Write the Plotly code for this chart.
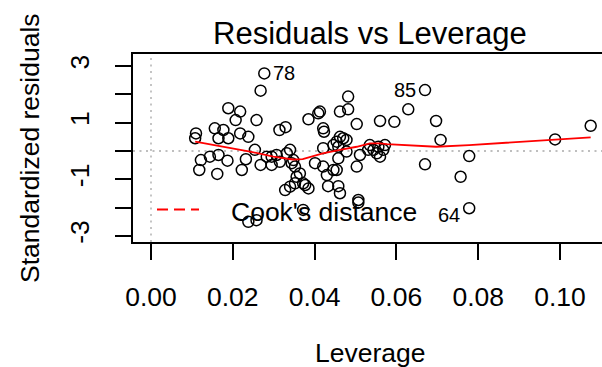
import plotly.graph_objects as go

# Regression diagnostics: standardized residuals against leverage
leverage = [
    0.0277, 0.0268, 0.0189, 0.0218, 0.0207, 0.0258, 0.0156, 0.0177, 0.0110, 0.0108,
    0.0165, 0.0189, 0.0218, 0.0238, 0.0314, 0.0329, 0.0254, 0.0122, 0.0118, 0.0144,
    0.0165, 0.0162, 0.0187, 0.0232, 0.0222, 0.0268, 0.0283, 0.0295, 0.0307, 0.0295,
    0.0315, 0.0332, 0.0340, 0.0348, 0.0352, 0.0328, 0.0340, 0.0352, 0.0238, 0.0258,
    0.0670, 0.0629, 0.0482, 0.0482, 0.0462, 0.0413, 0.0409, 0.0385, 0.0503, 0.0560,
    0.0595, 0.0697, 0.0708, 0.0421, 0.0423, 0.0462, 0.0470, 0.0478, 0.0454, 0.0446,
    0.0458, 0.0421, 0.0458, 0.0478, 0.0511, 0.0503, 0.0535, 0.0531, 0.0544, 0.0556,
    0.0560, 0.0568, 0.0572, 0.0552, 0.0670, 0.0401, 0.0421, 0.0446, 0.0430, 0.0454,
    0.0433, 0.0458, 0.0462, 0.0372, 0.0385, 0.0356, 0.0507, 0.0507, 0.0372, 0.0364,
    0.0377, 0.0344, 0.1075, 0.0988, 0.0778, 0.0757, 0.0778,
]
std_resid = [
    2.74, 2.13, 1.51, 1.39, 1.09, 1.09, 0.80, 0.74, 0.62, 0.45,
    0.45, 0.45, 0.62, 0.50, 0.74, 0.84, 0.04, -0.32, -0.67, -0.20,
    -0.14, -0.81, -0.34, -0.29, -0.67, -0.49, -0.20, -0.20, -0.14, -0.49,
    -0.38, -0.08, 0.04, -0.32, -0.55, -1.38, -1.26, -1.14, -2.50, -2.44,
    2.15, 1.47, 1.92, 1.47, 1.39, 1.39, 1.33, 1.12, 0.95, 1.06,
    1.03, 1.06, 0.39, 0.80, 0.68, 0.50, 0.45, 0.39, 0.33, 0.21,
    0.15, 0.10, -0.26, -0.02, -0.14, -0.55, 0.21, 0.04, 0.04, 0.15,
    -0.20, 0.04, 0.21, -0.08, -0.47, -0.43, -0.55, -0.67, -0.85, -0.67,
    -1.24, -1.24, -1.49, -1.14, -1.32, -0.91, -1.73, -1.82, -2.08, -0.79,
    -1.20, -0.43, 0.89, 0.41, -0.18, -0.91, -2.02,
]

# Lowess smoother through the residuals
smooth_lev = [0.0108, 0.0177, 0.0242, 0.0299, 0.0347, 0.0371, 0.0420, 0.0462, 0.0503,
              0.0535, 0.0560, 0.0577, 0.0633, 0.0697, 0.0778, 0.0890, 0.0988, 0.1075]
smooth_res = [0.33, 0.15, -0.02, -0.20, -0.30, -0.29, -0.08, 0.04, 0.15,
              0.27, 0.27, 0.24, 0.20, 0.15, 0.21, 0.32, 0.41, 0.48]

# Observations flagged by id
flag_idx = [0, 40, 96]
flag_text = ["78", "85", "64"]
flag_side = ["right", "left", "left"]

x_ticks = [0.00, 0.02, 0.04, 0.06, 0.08, 0.10]
x_ticktext = ["0.00", "0.02", "0.04", "0.06", "0.08", "0.10"]
y_ticks = [-3, -2, -1, 0, 1, 2, 3]
y_ticktext = ["-3", "", "-1", "", "1", "", "3"]

FONT = "Liberation Sans, Arial, sans-serif"
W, H = 602, 367
ML, MR, MT, MB = 133, 0, 54, 125

fig = go.Figure()

fig.add_trace(go.Scatter(
    x=leverage, y=std_resid, mode="markers",
    marker=dict(symbol="circle-open", size=11, color="black", line=dict(width=1.5)),
    hoverinfo="skip", showlegend=False,
))
fig.add_trace(go.Scatter(
    x=smooth_lev, y=smooth_res, mode="lines",
    line=dict(color="red", width=1.8), hoverinfo="skip", showlegend=False,
))

# Reference lines at zero
fig.add_shape(type="line", xref="x", yref="paper", x0=0, x1=0, y0=0, y1=1,
              line=dict(color="#bebebe", width=1.8, dash="2px,4.5px"), layer="below")
fig.add_shape(type="line", xref="paper", yref="y", x0=0, x1=1, y0=0, y1=0,
              line=dict(color="#bebebe", width=1.8, dash="2px,4.5px"), layer="below")

# Point id labels
for i, t, side in zip(flag_idx, flag_text, flag_side):
    fig.add_annotation(
        x=leverage[i], y=std_resid[i], text=t, showarrow=False,
        xanchor="left" if side == "right" else "right",
        xshift=7 if side == "right" else -7,
        yshift=0 if t != "64" else -7,
        font=dict(family=FONT, size=20, color="black"),
    )

# Legend: dashed Cook's distance key
pw = W - ML - MR
ph = H - MT - MB
fig.add_shape(type="line", xref="paper", yref="paper",
              x0=(157 - ML) / pw, x1=(199 - ML) / pw,
              y0=(H - MB - 209.5) / ph, y1=(H - MB - 209.5) / ph,
              line=dict(color="red", width=1.8, dash="11px,6px"))
fig.add_annotation(xref="paper", yref="paper", x=(229 - ML) / pw, y=(H - MB - 211.5) / ph,
                   text="Cook's distance", showarrow=False, xanchor="left", yanchor="middle",
                   font=dict(family=FONT, size=26.5, color="black"))

# Title and axis titles
fig.add_annotation(xref="paper", yref="paper", x=(370 - ML) / pw, y=1, yshift=MT - 33,
                   text="Residuals vs Leverage", showarrow=False, xanchor="center",
                   yanchor="middle", font=dict(family=FONT, size=31, color="black"))
fig.add_annotation(xref="paper", yref="paper", x=(370 - ML) / pw, y=0, yshift=-(353 - (H - MB)),
                   text="Leverage", showarrow=False, xanchor="center", yanchor="middle",
                   font=dict(family=FONT, size=26.5, color="black"))
fig.add_annotation(xref="paper", yref="paper", x=0, xshift=30 - ML, y=0.5,
                   text="Standardized residuals", showarrow=False, textangle=-90,
                   xanchor="center", yanchor="middle",
                   font=dict(family=FONT, size=26.5, color="black"))

x_lo = (ML - 151) / 4090
x_hi = (W - 151) / 4090
y_hi = (151 - MT) / 28.33
y_lo = (151 - (H - MB)) / 28.33

fig.update_layout(
    width=W, height=H, template="none",
    margin=dict(l=ML, r=MR, t=MT, b=MB, pad=0),
    paper_bgcolor="white", plot_bgcolor="white",
    font=dict(family=FONT, size=26.5, color="black"),
    xaxis=dict(range=[x_lo, x_hi], showgrid=False, zeroline=False,
               showline=True, mirror=True, linecolor="black", linewidth=1.5,
               ticks="outside", ticklen=16, tickwidth=1.5, tickcolor="black",
               tickvals=x_ticks, ticktext=x_ticktext, automargin=False,
               ticklabelstandoff=14, tickfont=dict(size=26.5)),
    yaxis=dict(range=[y_lo, y_hi], showgrid=False, zeroline=False,
               showline=True, mirror=False, linecolor="black", linewidth=1.5,
               ticks="outside", ticklen=16, tickwidth=1.5, tickcolor="black",
               tickvals=y_ticks, ticktext=y_ticktext, tickangle=-90, automargin=False,
               ticklabelstandoff=16, tickfont=dict(size=26.5)),
    showlegend=False,
)

fig.write_html("out.html")
